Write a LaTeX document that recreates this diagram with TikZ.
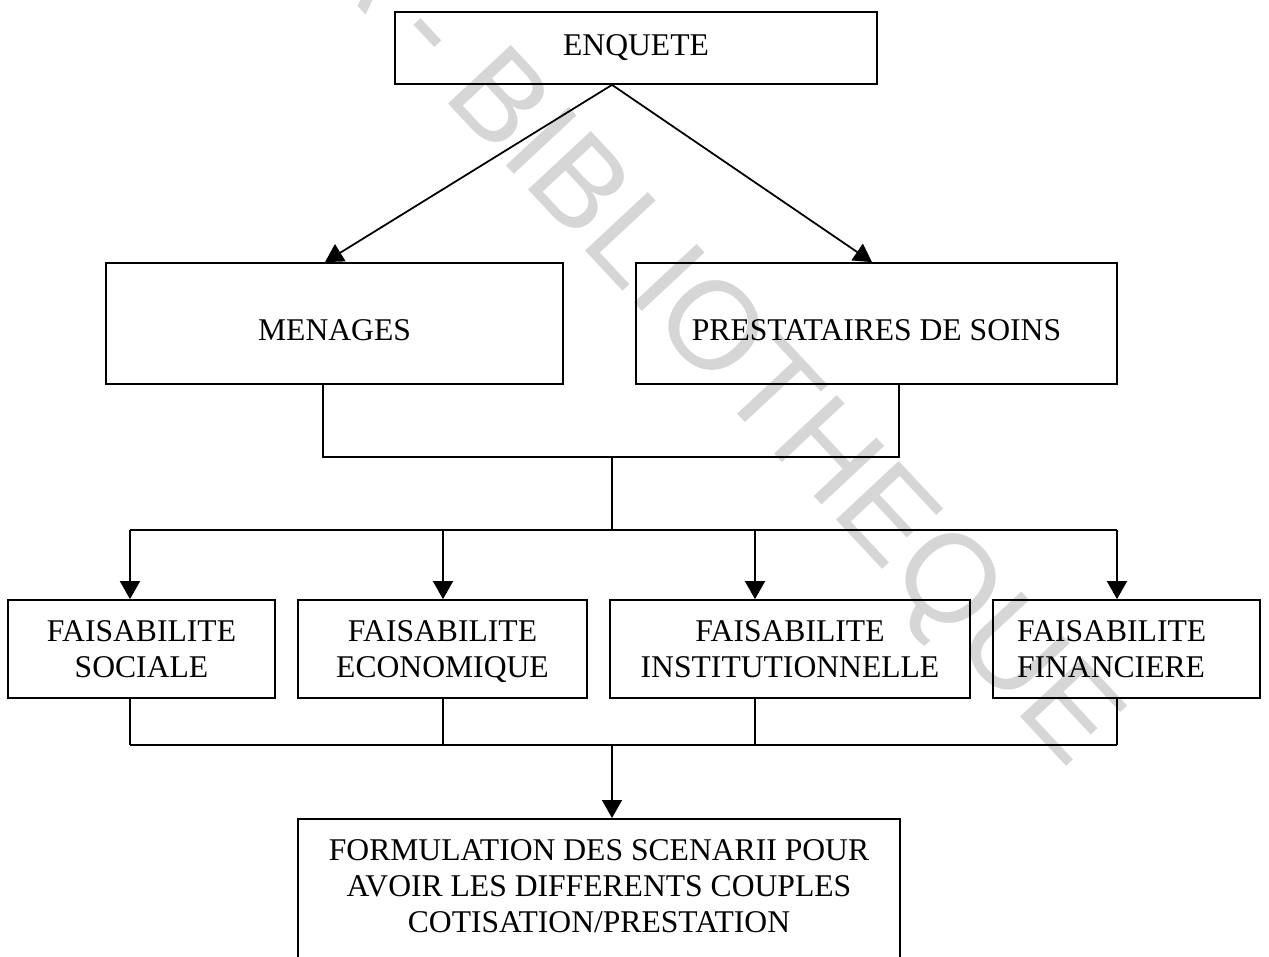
\documentclass[tikz,border=0pt]{standalone}
\usepackage{fontspec}
\setmainfont{Liberation Serif}
\newfontfamily\markfont{Liberation Sans}
\usetikzlibrary{arrows.meta,positioning}
\definecolor{mark-gray}{RGB}{214,214,214}
\tikzset{
    flow-box/.style = {draw=black, line width=1pt, rectangle, align=center, inner sep=0pt, font=\fontsize{18}{20.5}\selectfont},
    flow-pair/.style = {flow-box, minimum height=1.96cm, text depth=0pt},
    flow-text/.style = {align=center, inner sep=0pt, font=\fontsize{18}{20.5}\selectfont},
    flow-line/.style = {draw=black, line width=1pt},
    flow-arrow/.style = {flow-line, -{Triangle[length=0.36cm, width=0.4cm]}},
}
\begin{document}
\begin{tikzpicture}[x=0.02cm, y=-0.02cm]
\useasboundingbox (0,0) rectangle (1269,957);
\clip (0,0) rectangle (1269,957);
\node[text=mark-gray, font=\markfont\fontsize{71}{71}\selectfont, rotate=-47, anchor=mid] (stamp) at (499,152) {CODESRIA - BIBLIOTHEQUE};

\node[flow-box, minimum width=9.64cm, minimum height=1.44cm] (enquete) at (636,48) {ENQUETE};
\node[flow-box, minimum width=9.14cm, minimum height=2.42cm, text height=19.9pt, text depth=0pt] (menages) at (334.5,323.5) {MENAGES};
\node[flow-box, minimum width=9.62cm, minimum height=2.42cm, text height=19.9pt, text depth=0pt] (soins) at (876.5,323.5) {PRESTATAIRES DE SOINS};
\node[flow-pair, minimum width=5.34cm] (sociale) at (141.5,649) {FAISABILITE\\SOCIALE};
\node[flow-pair, minimum width=5.78cm] (economique) at (442.5,649) {FAISABILITE\\ECONOMIQUE};
\node[flow-pair, minimum width=7.2cm] (institution) at (790,649) {FAISABILITE\\INSTITUTIONNELLE};
\node[flow-box, minimum width=5.34cm, minimum height=1.96cm, align=left, text width=4.38cm] (financiere) at (1126.5,649) {FAISABILITE\\FINANCIERE};
\node[flow-box, anchor=north, minimum width=12.04cm, minimum height=4cm] (scenarii) at (599,818) {};
\node[flow-text, below=0.42cm of scenarii.north] (scenarii-text) {FORMULATION DES SCENARII POUR\\AVOIR LES DIFFERENTS COUPLES\\COTISATION/PRESTATION};

\coordinate (join-left) at (323,457);
\coordinate (join-right) at (899,457);
\coordinate (join-mid) at (612,457);
\coordinate (split-mid) at (612,530);
\coordinate (split-1) at (130,530);
\coordinate (split-2) at (443,530);
\coordinate (split-3) at (755,530);
\coordinate (split-4) at (1117,530);
\coordinate (merge-1) at (130,745);
\coordinate (merge-2) at (443,745);
\coordinate (merge-3) at (755,745);
\coordinate (merge-4) at (1117,745);
\coordinate (merge-mid) at (612,745);

\draw[flow-arrow] ([xshift=-0.48cm]enquete.south) -- ([xshift=-0.19cm]menages.north);
\draw[flow-arrow] ([xshift=-0.48cm]enquete.south) -- ([xshift=-0.09cm]soins.north);

\draw[flow-line] (menages.south -| join-left) -- (join-left) -- (join-right) -- (soins.south -| join-right);
\draw[flow-line] (join-mid) -- (split-mid);
\draw[flow-line] (split-1) -- (split-4);
\foreach \i/\n in {1/sociale, 2/economique, 3/institution, 4/financiere} {
    \draw[flow-arrow] (split-\i) -- (split-\i |- \n.north);
    \draw[flow-line] (\n.south -| merge-\i) -- (merge-\i);
}
\draw[flow-line] (merge-1) -- (merge-4);
\draw[flow-arrow] (merge-mid) -- (merge-mid |- scenarii.north);
\end{tikzpicture}
\end{document}
